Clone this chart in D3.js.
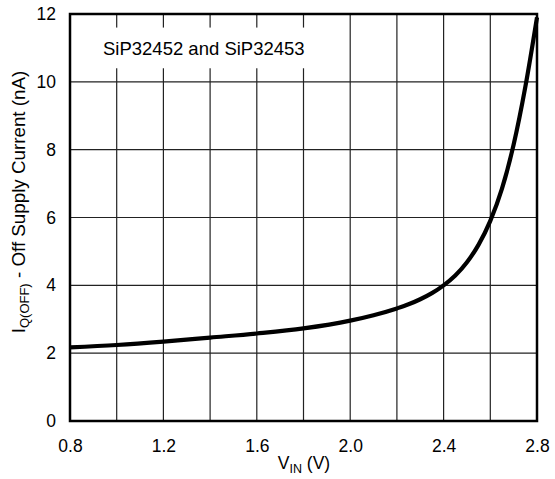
<!DOCTYPE html>
<html>
<head>
<meta charset="utf-8">
<script src="https://cdn.jsdelivr.net/npm/d3@7"></script>
<style>
  body { margin: 0; background: #fff; }
  text { font-family: "Liberation Sans", Arial, Helvetica, sans-serif; fill: #000; }
  .grid line { stroke: #222; stroke-width: 1.2; }
</style>
</head>
<body>
<svg id="chart" width="555" height="479"></svg>
<script>
// values
const vin = [0.8, 1.0, 1.2, 1.4, 1.6, 1.8, 2.0, 2.1, 2.2, 2.25, 2.3, 2.35, 2.4, 2.45, 2.5, 2.55, 2.6, 2.65, 2.7, 2.75, 2.8]
const iqOff = [2.17, 2.24, 2.34, 2.46, 2.58, 2.73, 2.96, 3.12, 3.32, 3.44, 3.59, 3.77, 4.0, 4.29, 4.68, 5.2, 5.9, 6.85, 8.15, 9.85, 11.9]
const xTicks = [0.8, 1.2, 1.6, 2.0, 2.4, 2.8]
const yTicks = [0, 2, 4, 6, 8, 10, 12]
const xGrid = [1.0, 1.2, 1.4, 1.6, 1.8, 2.0, 2.2, 2.4, 2.6]
const yGrid = [2, 4, 6, 8, 10]

const svg = d3.select("#chart")
const mLeft = 70, mRight = 537, mTop = 14, mBottom = 421

const x = d3.scaleLinear().domain([0.8, 2.8]).range([mLeft, mRight])
const y = d3.scaleLinear().domain([0, 12]).range([mBottom, mTop])

// grid
const grid = svg.append("g").attr("class", "grid")
grid.selectAll(".vx").data(xGrid).join("line")
    .attr("x1", d => x(d)).attr("x2", d => x(d))
    .attr("y1", mTop).attr("y2", mBottom)
grid.selectAll(".hy").data(yGrid).join("line")
    .attr("x1", mLeft).attr("x2", mRight)
    .attr("y1", d => y(d)).attr("y2", d => y(d))

// white box behind the part name
svg.append("rect")
    .attr("x", 82).attr("y", y(11.6))
    .attr("width", 245).attr("height", y(10.4) - y(11.6))
    .attr("fill", "#fff")
svg.append("text")
    .attr("x", 103).attr("y", 55)
    .attr("font-size", 18.5)
    .text("SiP32452 and SiP32453")

// curve
const line = d3.line().x((d, i) => x(vin[i])).y(d => y(d)).curve(d3.curveMonotoneX)
svg.append("path")
    .datum(iqOff)
    .attr("d", line)
    .attr("fill", "none")
    .attr("stroke", "#000")
    .attr("stroke-width", 4.2)
    .attr("stroke-linejoin", "round")

// frame
svg.append("rect")
    .attr("x", mLeft).attr("y", mTop)
    .attr("width", mRight - mLeft).attr("height", mBottom - mTop)
    .attr("fill", "none").attr("stroke", "#000").attr("stroke-width", 2.5)

// axes (labels only)
const xAxis = d3.axisBottom(x).tickValues(xTicks).tickFormat(d3.format(".1f")).tickSize(0).tickPadding(19)
const yAxis = d3.axisLeft(y).tickValues(yTicks).tickFormat(d3.format("d")).tickSize(0).tickPadding(14)

const gx = svg.append("g").attr("transform", `translate(0,${mBottom})`).call(xAxis)
const gy = svg.append("g").attr("transform", `translate(${mLeft},0)`).call(yAxis)
for (const g of [gx, gy]) {
    g.select(".domain").remove()
    g.selectAll("text").attr("font-size", 17.5).attr("font-family", null).attr("fill", "#000")
}
gx.selectAll("text").attr("dy", "0.71em")

// axis titles
const xt = svg.append("text")
    .attr("x", 304).attr("y", 469)
    .attr("text-anchor", "middle")
    .attr("font-size", 17.5)
xt.append("tspan").text("V")
xt.append("tspan").attr("font-size", 12.5).attr("dy", 4).text("IN")
xt.append("tspan").attr("dy", -4).text(" (V)")

const yt = svg.append("text")
    .attr("transform", `translate(25,${202}) rotate(-90)`)
    .attr("text-anchor", "middle")
    .attr("font-size", 18.8)
yt.append("tspan").text("I")
yt.append("tspan").attr("font-size", 13).attr("dy", 4).text("Q(OFF)")
yt.append("tspan").attr("dy", -4).text(" - Off Supply Current (nA)")
</script>
</body>
</html>
